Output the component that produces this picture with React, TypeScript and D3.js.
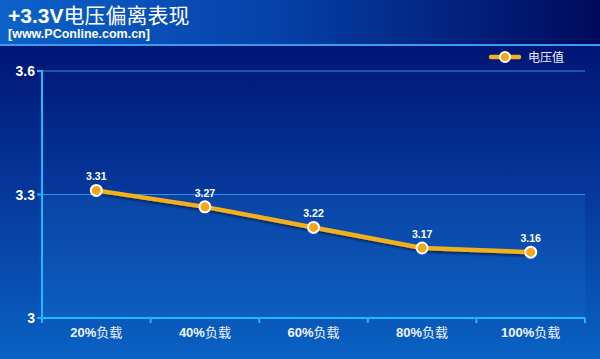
import React from "react";
import * as d3 from "d3";

const categories = ["20%负载", "40%负载", "60%负载", "80%负载", "100%负载"];
const values = [3.31, 3.27, 3.22, 3.17, 3.16];
const yTicks = [3, 3.3, 3.6];
const yTickLabels = ["3", "3.3", "3.6"];
const seriesName = "电压值";
const title = "+3.3V电压偏离表现";
const subtitle = "[www.PConline.com.cn]";

const W = 600;
const H = 359;
const left = 42;
const right = 585;
const top = 71;
const bottom = 318;

export default function App() {
  const x = d3.scaleBand<string>().domain(categories).range([left, right]).padding(0);
  const y = d3.scaleLinear().domain([3, 3.6]).range([bottom, top]);
  const cx = (c: string) => (x(c) as number) + x.bandwidth() / 2;
  const line = d3
    .line<number>()
    .x((_, i) => cx(categories[i]))
    .y((d) => y(d));
  const path = line(values) || "";
  const font = "Arial, 'Liberation Sans', 'Noto Sans CJK SC', sans-serif";
  const cjk = "'Noto Sans CJK SC', sans-serif";
  const bandBoundaries = [left, ...categories.map((c) => (x(c) as number) + x.bandwidth())];

  return (
    <svg
      width={W}
      height={H}
      style={{ position: "absolute", left: 0, top: 0, display: "block" }}
      fontFamily={font}
    >
      <defs>
        <linearGradient id="bg" x1="0" y1="0" x2="0" y2="1">
          <stop offset="0" stopColor="#000a68" />
          <stop offset="0.35" stopColor="#03288a" />
          <stop offset="1" stopColor="#0a62c4" />
        </linearGradient>
        <linearGradient id="hdr" x1="0" y1="0" x2="1" y2="0">
          <stop offset="0" stopColor="#0c62c8" />
          <stop offset="0.45" stopColor="#0542aa" />
          <stop offset="1" stopColor="#000a5c" />
        </linearGradient>
        <filter id="sh" x="-10%" y="-50%" width="120%" height="200%">
          <feDropShadow dx="1.5" dy="2" stdDeviation="1.2" floodColor="#001030" floodOpacity="0.7" />
        </filter>
      </defs>
      <rect x={0} y={0} width={W} height={H} fill="url(#bg)" />
      <rect x={0} y={0} width={W} height={44} fill="url(#hdr)" />
      <rect x={0} y={44} width={W} height={2} fill="#3a9cf0" />

      <text x={8} y={23} fill="#ffffff" fontSize={21} fontWeight="bold">
        <tspan fontFamily={font}>+3.3V</tspan>
        <tspan fontFamily={cjk} fontWeight="normal">{title.slice(5)}</tspan>
      </text>
      <text x={8} y={38} fill="#ffffff" fontSize={12.5} fontWeight="bold">
        {subtitle}
      </text>

      {/* plot area lower band */}
      <rect
        x={left}
        y={y(3.3)}
        width={right - left}
        height={bottom - y(3.3)}
        fill="#2a90f0"
        opacity={0.12}
      />

      {/* grid lines */}
      {yTicks.slice(1).map((t) => (
        <line key={t} x1={left} x2={right} y1={y(t)} y2={y(t)} stroke="#3a8ee6" strokeWidth={1.2} />
      ))}

      {/* axes */}
      <line x1={left} x2={left} y1={top - 1} y2={bottom + 4} stroke="#1cbaff" strokeWidth={2} />
      <line x1={left} x2={right} y1={bottom} y2={bottom} stroke="#1cbaff" strokeWidth={2} />
      {yTicks.map((t, i) => (
        <g key={t}>
          <line x1={left - 5} x2={left} y1={y(t)} y2={y(t)} stroke="#1cbaff" strokeWidth={2} />
          <text x={left - 7} y={y(t) + 5} fill="#ffffff" fontSize={14} fontWeight="bold" textAnchor="end">
            {yTickLabels[i]}
          </text>
        </g>
      ))}
      {bandBoundaries.map((b, i) => (
        <line key={i} x1={b} x2={b} y1={bottom} y2={bottom + 5} stroke="#1cbaff" strokeWidth={2} />
      ))}
      {categories.map((c) => (
        <text key={c} x={cx(c)} y={337} fill="#f0f4ff" fontSize={13} fontWeight="bold" textAnchor="middle">
          <tspan fontFamily={font}>{c.replace("负载", "")}</tspan>
          <tspan fontFamily={cjk} fontWeight="normal">负载</tspan>
        </text>
      ))}

      {/* series */}
      <path d={path} fill="none" stroke="#f2b01e" strokeWidth={4.5} filter="url(#sh)" strokeLinejoin="round" />
      {values.map((v, i) => (
        <g key={i}>
          <circle cx={cx(categories[i])} cy={y(v)} r={5.5} fill="#f2a81a" stroke="#ffffff" strokeWidth={2} />
          <text
            x={cx(categories[i])}
            y={y(v) - 10}
            fill="#ffffff"
            fontSize={10.5}
            fontWeight="bold"
            textAnchor="middle"
          >
            {v.toFixed(2)}
          </text>
        </g>
      ))}

      {/* legend */}
      <line x1={491} x2={519} y1={57} y2={57} stroke="#f2b01e" strokeWidth={4.5} strokeLinecap="round" />
      <circle cx={505} cy={57} r={5} fill="#f2a81a" stroke="#ffffff" strokeWidth={2} />
      <text x={528} y={62} fill="#e8eeff" fontSize={12} fontFamily={cjk}>
        {seriesName}
      </text>
    </svg>
  );
}
